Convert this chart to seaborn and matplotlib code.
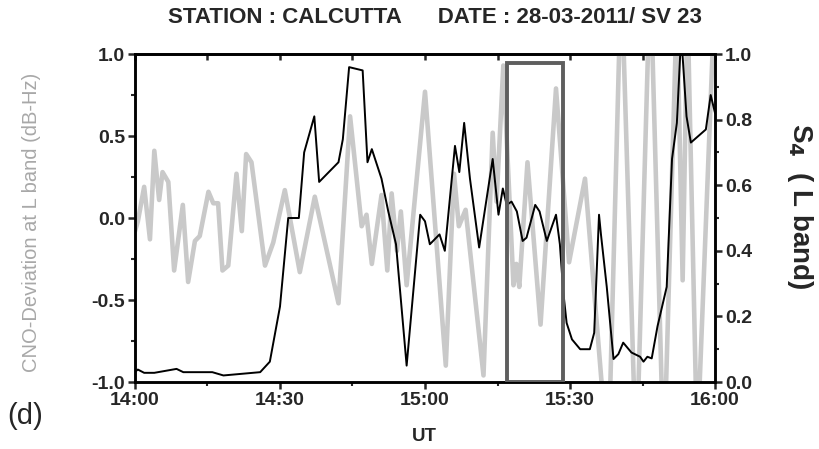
import numpy as np
import pandas as pd
import seaborn as sns
import matplotlib
matplotlib.use("Agg")
import matplotlib.pyplot as plt
from matplotlib.patches import Rectangle
from matplotlib.ticker import MultipleLocator, FixedLocator, FixedFormatter

# ---------------- data (minutes after 14:00 UT) ----------------
cno_minutes = [0, 0.6, 1.9, 3.1, 4.0, 5.0, 5.7, 6.9, 8.1, 9.9, 11.0, 12.4, 13.4,
               15.2, 16.2, 17.2, 18.1, 19.3, 21.0, 22.1, 23.0, 24.1, 26.9, 28.6,
               31.0, 34.1, 37.2, 42.1, 44.5, 46.9, 47.9, 49.0, 51.0, 52.2, 53.1,
               54.2, 55.0, 56.2, 60.0, 64.3, 66.0, 67.0, 68.4, 72.1, 74.0, 74.8,
               76.2, 78.3, 78.9, 79.5, 81.2, 83.9, 87.1, 89.8, 93.1, 97.9, 100.6,
               103.7, 106.6, 109.4, 112.1, 113.3, 114.3, 116.3, 120.0]
cno_values = [-0.08, -0.02, 0.19, -0.13, 0.41, 0.11, 0.28, 0.22, -0.32, 0.08, -0.39,
              -0.14, -0.11, 0.16, 0.09, 0.09, -0.32, -0.29, 0.27, -0.08, 0.39, 0.34,
              -0.29, -0.15, 0.17, -0.33, 0.13, -0.52, 0.62, -0.05, 0.02, -0.28, 0.14,
              -0.32, 0.15, -0.20, 0.04, -0.41, 0.77, -0.90, 0.27, -0.05, 0.05, -0.96,
              0.52, 0.10, 0.93, -0.41, -0.28, -0.42, 0.34, -0.65, 0.79, -0.27, 0.24,
              -1.5, 1.5, -1.5, 1.5, -1.5, 1.3, -0.38, 1.3, -1.4, 1.4]

s4_minutes = [0, 0.6, 1.9, 4.0, 8.6, 10.0, 16.0, 18.3, 25.9, 27.9, 30.0, 31.7, 33.9,
              35.0, 37.1, 38.1, 42.1, 43.0, 44.3, 47.1, 48.1, 49.0, 51.0, 52.4, 54.0,
              56.2, 59.0, 60.0, 61.0, 63.0, 64.1, 66.2, 67.1, 68.1, 69.3, 71.2, 74.0,
              75.2, 76.1, 76.9, 77.9, 79.0, 80.2, 81.0, 82.8, 83.7, 85.2, 87.1, 87.9,
              88.6, 89.3, 90.4, 92.1, 94.1, 95.0, 96.0, 96.4, 97.6, 99.0, 100.0,
              101.0, 102.7, 104.5, 105.2, 106.0, 106.9, 108.1, 110.0, 111.1, 112.1,
              113.0, 114.1, 115.0, 118.1, 119.1, 120.0]
s4_values = [0.031, 0.038, 0.028, 0.028, 0.040, 0.030, 0.030, 0.020, 0.030, 0.062,
             0.23, 0.50, 0.50, 0.70, 0.81, 0.61, 0.67, 0.74, 0.96, 0.95, 0.67, 0.71,
             0.62, 0.52, 0.42, 0.05, 0.51, 0.49, 0.42, 0.45, 0.40, 0.72, 0.64, 0.79,
             0.62, 0.41, 0.68, 0.51, 0.59, 0.54, 0.55, 0.52, 0.43, 0.44, 0.54, 0.52,
             0.43, 0.51, 0.42, 0.275, 0.18, 0.13, 0.10, 0.10, 0.15, 0.51, 0.45, 0.29,
             0.07, 0.085, 0.12, 0.09, 0.077, 0.062, 0.077, 0.072, 0.17, 0.29, 0.68,
             0.79, 1.06, 0.81, 0.73, 0.77, 0.875, 0.82]

x_ticks = [0, 30, 60, 90, 120]
x_tick_labels = ["14:00", "14:30", "15:00", "15:30", "16:00"]
left_ticks = [-1.0, -0.5, 0.0, 0.5, 1.0]
right_ticks = [0.0, 0.2, 0.4, 0.6, 0.8, 1.0]

box_start, box_end, box_top = 76.9, 88.5, 0.972

title_text = "STATION : CALCUTTA      DATE : 28-03-2011/ SV 23"

# ---------------- style ----------------
sns.set_style("white")
plt.rcParams["font.family"] = ["Liberation Sans", "DejaVu Sans"]
plt.rcParams["axes.linewidth"] = 1.8

fig = plt.figure(figsize=(8.2, 4.49), dpi=100)
ax = fig.add_axes([0.1646, 0.1492, 0.872 - 0.1646, 0.8797 - 0.1492])

cno_df = pd.DataFrame({"t": cno_minutes, "v": cno_values})
s4_df = pd.DataFrame({"t": s4_minutes, "v": s4_values})

sns.lineplot(data=cno_df, x="t", y="v", ax=ax, color="#c9c9c9", linewidth=3.3,
             estimator=None, sort=False)
ax.set_xlim(0, 120)
ax.set_ylim(-1, 1)

ax2 = ax.twinx()
sns.lineplot(data=s4_df, x="t", y="v", ax=ax2, color="black", linewidth=1.4,
             estimator=None, sort=False)
ax2.set_ylim(0, 1)
ax2.set_xlim(0, 120)

ax2.add_patch(Rectangle((box_start, 0), box_end - box_start, box_top,
                        fill=False, edgecolor="#5e5e5e", linewidth=2.8, zorder=5))

# x axis
ax.xaxis.set_major_locator(FixedLocator(x_ticks))
ax.xaxis.set_major_formatter(FixedFormatter(x_tick_labels))
ax.xaxis.set_minor_locator(MultipleLocator(15))
ax.yaxis.set_major_locator(FixedLocator(left_ticks))
ax.set_yticklabels([f"{v:.1f}" for v in left_ticks])
ax.yaxis.set_minor_locator(MultipleLocator(0.25))
ax2.yaxis.set_major_locator(FixedLocator(right_ticks))
ax2.set_yticklabels([f"{v:.1f}" for v in right_ticks])
ax2.yaxis.set_minor_locator(MultipleLocator(0.1))

for a in (ax, ax2):
    for s in a.spines.values():
        s.set_linewidth(1.8)
        s.set_color("black")

ax.tick_params(axis="x", which="major", direction="out", length=5, width=1.8,
               labelsize=14, pad=2, bottom=True, top=False)
ax.tick_params(axis="x", which="minor", direction="out", length=3, width=1.5,
               bottom=True, top=False)
ax.tick_params(axis="y", which="major", direction="out", length=5, width=1.8,
               labelsize=14, pad=2, left=True)
ax.tick_params(axis="y", which="minor", direction="out", length=3, width=1.5, left=True)
ax2.tick_params(axis="y", which="major", direction="out", length=5, width=1.8,
                labelsize=14, pad=2, right=True)
ax2.tick_params(axis="y", which="minor", direction="out", length=3, width=1.5, right=True)

for lab in ax.get_xticklabels() + ax.get_yticklabels() + ax2.get_yticklabels():
    lab.set_fontweight("bold")

# top inward ticks
sec = ax.secondary_xaxis("top")
sec.xaxis.set_major_locator(FixedLocator(x_ticks))
sec.xaxis.set_minor_locator(MultipleLocator(15))
sec.tick_params(which="both", direction="in", length=4, width=1.8, labeltop=False)
sec.spines["top"].set_linewidth(1.8)

ax.set_xlabel("")
ax.set_ylabel("")
ax2.set_ylabel("")

fig.text(0.53, 0.962, title_text, ha="center", va="center", fontsize=16,
         fontweight="bold")
fig.text(0.038, 0.505, "CNO-Deviation at L band (dB-Hz)", rotation=90, ha="center",
         va="center", fontsize=14.5, color="#a8a8a8")
fig.text(0.976, 0.54, r"S$_\mathbf{4}$  ( L band)", rotation=270, ha="center",
         va="center", fontsize=20, fontweight="bold")
fig.text(0.031, 0.073, "(d)", ha="center", va="center", fontsize=21)
fig.text(0.518, 0.027, "UT", ha="center", va="center", fontsize=13.5,
         fontweight="bold")

fig.savefig("out.png", dpi=100)
